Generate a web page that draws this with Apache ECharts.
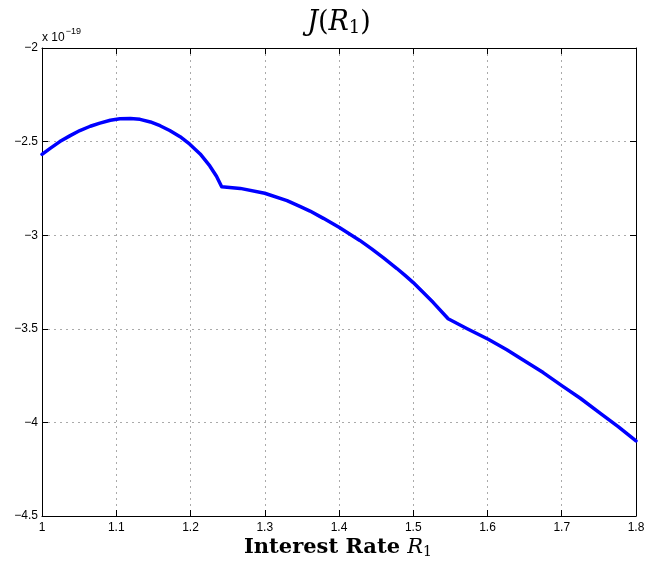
<!DOCTYPE html>
<html>
<head>
<meta charset="utf-8">
<script src="https://cdn.jsdelivr.net/npm/echarts@6/dist/echarts.min.js"></script>
<style>
html,body{margin:0;padding:0;background:#fff;}
#chart{width:645px;height:566px;}
</style>
</head>
<body>
<div id="chart"></div>
<script>
// Data (y values in units of 1e-19)
const rateX = [1.000, 1.011, 1.024, 1.038, 1.051, 1.065, 1.078, 1.092, 1.105, 1.119, 1.132, 1.146,
  1.159, 1.172, 1.186, 1.199, 1.213, 1.226, 1.235, 1.242,
  1.267, 1.300, 1.330, 1.348, 1.361, 1.379, 1.400, 1.428, 1.444, 1.460, 1.478, 1.489, 1.500, 1.527, 1.547,
  1.572, 1.601, 1.626, 1.648, 1.675, 1.701, 1.725, 1.752, 1.776, 1.800];
const jValues = [-2.568, -2.536, -2.500, -2.468, -2.441, -2.418, -2.401, -2.386, -2.378, -2.376, -2.381, -2.395,
  -2.415, -2.441, -2.474, -2.514, -2.566, -2.630, -2.685, -2.741,
  -2.750, -2.776, -2.815, -2.847, -2.871, -2.910, -2.958, -3.028, -3.073, -3.121, -3.178, -3.215, -3.253, -3.360, -3.446,
  -3.498, -3.556, -3.612, -3.667, -3.734, -3.806, -3.871, -3.952, -4.023, -4.099];
const xTicks = [1.0, 1.1, 1.2, 1.3, 1.4, 1.5, 1.6, 1.7, 1.8];
const yTicks = [-4.5, -4.0, -3.5, -3.0, -2.5, -2.0];

const chart = echarts.init(document.getElementById('chart'), null, {renderer: 'canvas'});
const seriesData = rateX.map((x, i) => [x, jValues[i]]);

const fmtX = v => String(Math.round(v * 10) / 10);
const fmtY = v => {
  const r = Math.round(v * 10) / 10;
  return (r < 0 ? '\u2212' : '') + String(Math.abs(r));
};

const tickFont = {fontFamily: 'Liberation Sans, Arial, sans-serif', fontSize: 12, color: '#000'};
const gridLine = {show: true, lineStyle: {color: '#aaaaaa', type: [2, 4], width: 1}};
const axisLineStyle = {show: true, lineStyle: {color: '#000', width: 1}};
const tickStyle = {show: true, inside: true, length: 6, lineStyle: {color: '#000'}};

chart.setOption({
  animation: false,
  backgroundColor: '#fff',
  grid: {left: 42, right: 9, top: 48, bottom: 50, containLabel: false, outerBoundsMode: 'none'},
  xAxis: [{
    type: 'value', min: xTicks[0], max: xTicks[xTicks.length - 1], interval: 0.1,
    position: 'bottom',
    axisLine: axisLineStyle, axisTick: tickStyle, splitLine: gridLine,
    axisLabel: Object.assign({formatter: fmtX, margin: 6}, tickFont)
  }, {
    type: 'value', min: xTicks[0], max: xTicks[xTicks.length - 1], interval: 0.1,
    position: 'top',
    axisLine: axisLineStyle, axisTick: tickStyle, splitLine: {show: false},
    axisLabel: {show: false}
  }],
  yAxis: [{
    type: 'value', min: yTicks[0], max: yTicks[yTicks.length - 1], interval: 0.5,
    position: 'left',
    axisLine: axisLineStyle, axisTick: tickStyle, splitLine: gridLine,
    axisLabel: Object.assign({formatter: fmtY, margin: 4}, tickFont)
  }, {
    type: 'value', min: yTicks[0], max: yTicks[yTicks.length - 1], interval: 0.5,
    position: 'right',
    axisLine: axisLineStyle, axisTick: tickStyle, splitLine: {show: false},
    axisLabel: {show: false}
  }],
  series: [{
    type: 'line',
    data: seriesData,
    xAxisIndex: 0, yAxisIndex: 0,
    showSymbol: false, symbol: 'none',
    smooth: false,
    lineStyle: {color: '#0000ff', width: 3.5, join: 'round', cap: 'round'},
    z: 5
  }],
  graphic: [
    {
      type: 'text', left: 42, top: 27,
      style: {
        text: '{a|x 10}{b|\u221219}',
        rich: {
          a: {fontFamily: 'Liberation Sans, Arial, sans-serif', fontSize: 12, fill: '#000', padding: [6, 0, 0, 0]},
          b: {fontFamily: 'Liberation Sans, Arial, sans-serif', fontSize: 9, fill: '#000', padding: [0, 0, 6, 1]}
        }
      }
    },
    {
      type: 'text', x: 339, y: 23,
      style: {
        text: '{i|J}{n|(}{i|R}{s|1}{n|)}',
        align: 'center', verticalAlign: 'middle',
        rich: {
          i: {fontFamily: 'DejaVu Serif, serif', fontStyle: 'italic', fontSize: 27, fill: '#000'},
          n: {fontFamily: 'DejaVu Serif, serif', fontSize: 27, fill: '#000'},
          s: {fontFamily: 'DejaVu Serif, serif', fontSize: 18, fill: '#000', padding: [11, 0, 0, 0]}
        }
      }
    },
    {
      type: 'text', x: 338, y: 548,
      style: {
        text: '{b|Interest Rate }{i|R}{s|1}',
        align: 'center', verticalAlign: 'middle',
        rich: {
          b: {fontFamily: 'DejaVu Serif, serif', fontWeight: 'bold', fontSize: 21, fill: '#000'},
          i: {fontFamily: 'DejaVu Serif, serif', fontStyle: 'italic', fontSize: 21, fill: '#000'},
          s: {fontFamily: 'DejaVu Serif, serif', fontSize: 14, fill: '#000', padding: [9, 0, 0, 0]}
        }
      }
    }
  ]
});
</script>
</body>
</html>
